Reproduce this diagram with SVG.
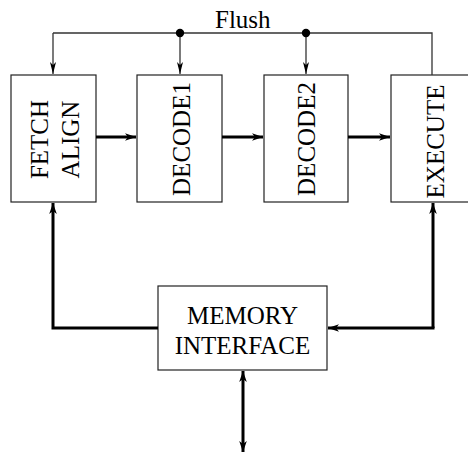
<svg xmlns="http://www.w3.org/2000/svg" width="468" height="453" viewBox="0 0 468 453">
  <style>
    .box { fill: #ffffff; stroke: #222222; stroke-width: 1.2; }
    .lbl { font-family: "Liberation Serif", "Times New Roman", serif; font-size: 25px; fill: #000000; }
    .thin { fill: none; stroke: #333333; stroke-width: 1.3; }
    .thick { fill: none; stroke: #000000; stroke-width: 3; }
  </style>
  <defs>
    <marker id="tipThin" markerUnits="userSpaceOnUse" viewBox="-13 -4 14 8" refX="0" refY="0" markerWidth="14" markerHeight="8" orient="auto">
      <path d="M0,0 L-12,-3 L-9,0 L-12,3 Z" fill="#000000"/>
    </marker>
    <marker id="tipThick" markerUnits="userSpaceOnUse" viewBox="-12 -4.5 13 9" refX="0" refY="0" markerWidth="13" markerHeight="9" orient="auto">
      <path d="M0,0 L-11,-3.8 L-8,0 L-11,3.8 Z" fill="#000000"/>
    </marker>
    <marker id="tipThickStart" markerUnits="userSpaceOnUse" viewBox="-1 -4.5 13 9" refX="0" refY="0" markerWidth="13" markerHeight="9" orient="auto">
      <path d="M0,0 L11,-3.8 L8,0 L11,3.8 Z" fill="#000000"/>
    </marker>
  </defs>

  <!-- pipeline stages -->
  <g id="fetch-align">
    <rect class="box" x="11" y="75" width="85" height="127"/>
    <text class="lbl" text-anchor="middle" transform="translate(47.5,139.5) rotate(-90)">FETCH</text>
    <text class="lbl" text-anchor="middle" transform="translate(78.5,139.5) rotate(-90)">ALIGN</text>
  </g>
  <g id="decode1">
    <rect class="box" x="137" y="75" width="85" height="127"/>
    <text class="lbl" text-anchor="middle" transform="translate(190,139) rotate(-90)">DECODE1</text>
  </g>
  <g id="decode2">
    <rect class="box" x="264" y="75" width="84" height="127"/>
    <text class="lbl" text-anchor="middle" transform="translate(315,139) rotate(-90)">DECODE2</text>
  </g>
  <g id="execute">
    <rect class="box" x="391" y="75" width="100" height="127"/>
    <text class="lbl" text-anchor="middle" transform="translate(443.5,141.5) rotate(-90)">EXECUTE</text>
  </g>
  <g id="memory-interface">
    <rect class="box" x="158" y="286" width="169" height="84"/>
    <text class="lbl" text-anchor="middle" x="242.5" y="324">MEMORY</text>
    <text class="lbl" text-anchor="middle" x="242.5" y="354">INTERFACE</text>
  </g>

  <g id="connectors">
    <!-- flush bus -->
    <path class="thin" d="M53,33 H432 V75"/>
    <path class="thin" d="M53,33 V74" marker-end="url(#tipThin)"/>
    <path class="thin" d="M180,33 V74" marker-end="url(#tipThin)"/>
    <path class="thin" d="M306,33 V74" marker-end="url(#tipThin)"/>
    <circle cx="180" cy="33" r="4.2" fill="#000000"/>
    <circle cx="306" cy="33" r="4.2" fill="#000000"/>
    <text class="lbl" x="215" y="28">Flush</text>

    <!-- stage to stage -->
    <path class="thick" d="M96,137 H136" marker-end="url(#tipThick)"/>
    <path class="thick" d="M222,137 H263" marker-end="url(#tipThick)"/>
    <path class="thick" d="M348,137 H390" marker-end="url(#tipThick)"/>

    <!-- memory paths -->
    <path class="thick" d="M158,328 H53 V203" marker-end="url(#tipThick)"/>
    <path class="thick" d="M433,328 V203" marker-end="url(#tipThick)"/>
    <path class="thick" d="M434.5,328 H328" marker-end="url(#tipThick)"/>
    <path class="thick" d="M243,371 V452" marker-start="url(#tipThickStart)" marker-end="url(#tipThick)"/>
  </g>
</svg>
